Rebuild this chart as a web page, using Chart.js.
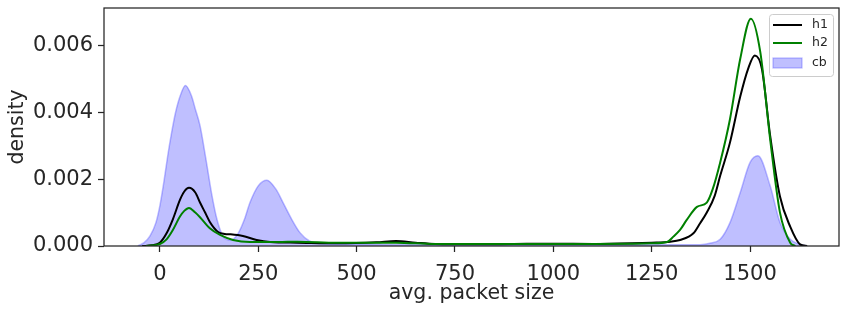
<!DOCTYPE html>
<html>
<head>
<meta charset="utf-8">
<script src="https://cdn.jsdelivr.net/npm/chart.js@4.4.0/dist/chart.umd.min.js"></script>
<style>
    html, body { margin: 0; padding: 0; background: #fff; }
</style>
</head>
<body>
<canvas id="kdeChart" width="848" height="311"></canvas>
<script>
// --- Data ---
const xTicks = [0, 250, 500, 750, 1000, 1250, 1500];
const yTicks = [0, 0.002, 0.004, 0.006];

const h1X = [-45, -20, 0, 17, 33, 51, 62, 74, 90, 102, 115, 127, 148, 165, 178, 211, 246, 280, 350, 450, 550, 600, 650, 700, 800, 900, 1000, 1100, 1200, 1250, 1297, 1322, 1356, 1373, 1390, 1410, 1424, 1449, 1475, 1495, 1512, 1530, 1551, 1576, 1602, 1627, 1645];
const h1Y = [0, 0.00002, 0.0001, 0.00038, 0.0008, 0.00138, 0.00163, 0.00174, 0.0016, 0.0013, 0.001, 0.00072, 0.00042, 0.00036, 0.00035, 0.0003, 0.00018, 0.00012, 0.0001, 0.00008, 0.00011, 0.00015, 0.0001, 0.00006, 0.00005, 0.00006, 0.00007, 0.00006, 0.00008, 0.0001, 0.00013, 0.00018, 0.00038, 0.00068, 0.001, 0.0015, 0.0021, 0.0031, 0.00447, 0.0053, 0.0057, 0.0053, 0.0033, 0.00148, 0.00058, 0.00005, 0];

const h2X = [-35, -15, 0, 17, 33, 51, 62, 74, 90, 102, 127, 153, 186, 229, 300, 350, 450, 600, 700, 800, 900, 1000, 1100, 1200, 1250, 1289, 1305, 1322, 1339, 1365, 1390, 1405, 1424, 1449, 1475, 1502, 1526, 1551, 1576, 1602, 1615];
const h2Y = [0, 0.00002, 0.00006, 0.0002, 0.00048, 0.00088, 0.00105, 0.00114, 0.001, 0.00086, 0.00053, 0.00033, 0.00018, 0.00012, 0.00012, 0.00013, 0.0001, 0.0001, 0.00006, 0.00006, 0.00006, 0.00006, 0.00006, 0.00007, 0.00008, 0.00012, 0.00028, 0.00048, 0.00078, 0.00117, 0.0013, 0.0017, 0.0025, 0.0038, 0.0056, 0.0068, 0.0058, 0.0032, 0.001, 0.0001, 0];

const cbX = [-56, -40, -25, -10, 0, 10, 20, 30, 40, 52, 65, 80, 90, 102, 117, 131, 145, 160, 175, 185, 200, 215, 229, 250, 272, 295, 313, 335, 356, 380, 400, 500, 600, 700, 800, 900, 1000, 1100, 1200, 1300, 1373, 1398, 1424, 1449, 1475, 1500, 1520, 1551, 1576, 1602, 1627, 1645];
const cbY = [0, 0.0001, 0.0003, 0.0007, 0.0012, 0.0019, 0.0027, 0.0034, 0.004, 0.0045, 0.0048, 0.0045, 0.0041, 0.0036, 0.0026, 0.0016, 0.0008, 0.0003, 0.00018, 0.0002, 0.0004, 0.0008, 0.0013, 0.0018, 0.00197, 0.0017, 0.0013, 0.0008, 0.0004, 0.00015, 0.00008, 0.00005, 0.00004, 0.00004, 0.00004, 0.00004, 0.00004, 0.00004, 0.00004, 0.00004, 0.00004, 0.00008, 0.0002, 0.0007, 0.0016, 0.0025, 0.0027, 0.0018, 0.0007, 0.0002, 0.00005, 0];

const toPoints = (xs, ys) => xs.map((x, i) => ({ x: x, y: ys[i] }));

const TEXT = '#262626';
Chart.defaults.font.family = '"DejaVu Sans", sans-serif';
Chart.defaults.color = TEXT;

// top/right spines + matplotlib-style legend box
const framePlugin = {
    id: 'frame',
    afterDatasetsDraw(chart) {
        const { ctx, chartArea: a } = chart;
        ctx.save();
        ctx.strokeStyle = TEXT;
        ctx.lineWidth = 1.25;
        ctx.strokeRect(a.left, a.top, a.right - a.left, a.bottom - a.top);
        ctx.restore();
    },
    afterDraw(chart) {
        const ctx = chart.ctx;
        const boxX = 769, boxY = 14, boxW = 64, boxH = 62;
        ctx.save();
        ctx.fillStyle = 'rgba(255,255,255,0.8)';
        ctx.strokeStyle = '#cccccc';
        ctx.lineWidth = 1;
        ctx.beginPath();
        ctx.roundRect(boxX + 0.5, boxY + 0.5, boxW, boxH, 3);
        ctx.fill();
        ctx.stroke();

        ctx.font = '12.5px "DejaVu Sans"';
        ctx.textBaseline = 'middle';
        const rows = [25, 43, 63];
        chart.data.datasets.forEach((ds, i) => {
            const y = rows[i];
            if (ds.fill) {
                ctx.fillStyle = ds.backgroundColor;
                ctx.fillRect(773, y - 5, 29, 10);
                ctx.strokeStyle = ds.borderColor;
                ctx.lineWidth = 1.2;
                ctx.strokeRect(773, y - 5, 29, 10);
            } else {
                ctx.strokeStyle = ds.borderColor;
                ctx.lineWidth = 2;
                ctx.beginPath();
                ctx.moveTo(773, y);
                ctx.lineTo(802, y);
                ctx.stroke();
            }
            ctx.fillStyle = TEXT;
            ctx.fillText(ds.label, 812, y);
        });
        ctx.restore();
    }
};

const lineStyle = {
    pointRadius: 0,
    borderWidth: 2,
    cubicInterpolationMode: 'monotone',
    fill: false
};

new Chart(document.getElementById('kdeChart').getContext('2d'), {
    type: 'line',
    data: {
        datasets: [
            { ...lineStyle, label: 'h1', data: toPoints(h1X, h1Y), borderColor: '#000000', order: 1 },
            { ...lineStyle, label: 'h2', data: toPoints(h2X, h2Y), borderColor: '#008000', order: 0 },
            {
                ...lineStyle, label: 'cb', data: toPoints(cbX, cbY),
                borderColor: 'rgba(60, 60, 255, 0.35)', borderWidth: 1.5,
                backgroundColor: 'rgba(0, 0, 255, 0.25)', fill: 'origin', order: 2
            }
        ]
    },
    options: {
        responsive: false,
        animation: false,
        devicePixelRatio: 1,
        layout: { padding: { top: 8, right: 9, left: 0, bottom: 0 } },
        plugins: { legend: { display: false }, tooltip: { enabled: false } },
        scales: {
            x: {
                type: 'linear',
                min: -142,
                max: 1726,
                afterBuildTicks: (s) => { s.ticks = xTicks.map(v => ({ value: v })); },
                afterFit: (s) => { s.height = 65; s.paddingLeft = 0; s.paddingRight = 0; },
                ticks: { font: { size: 21 }, color: TEXT, padding: 10, maxRotation: 0, autoSkip: false, callback: (v) => String(v) },
                grid: { drawOnChartArea: false, tickLength: 6, tickWidth: 1.25, tickColor: TEXT },
                border: { display: false },
                title: { display: true, text: 'avg. packet size', font: { size: 20.5 }, color: TEXT, padding: { top: 0, bottom: 5.5 } }
            },
            y: {
                min: 0,
                max: 0.00712,
                afterBuildTicks: (s) => { s.ticks = yTicks.map(v => ({ value: v })); },
                afterFit: (s) => { s.width = 104; s.paddingTop = 0; s.paddingBottom = 0; },
                ticks: { font: { size: 21 }, color: TEXT, padding: 5, callback: (v) => v.toFixed(3) },
                grid: { drawOnChartArea: false, tickLength: 6, tickWidth: 1.25, tickColor: TEXT },
                border: { display: false },
                title: { display: true, text: 'density', font: { size: 20.5 }, color: TEXT, padding: { top: 5, bottom: 0 } }
            }
        }
    },
    plugins: [framePlugin]
});
</script>
</body>
</html>
